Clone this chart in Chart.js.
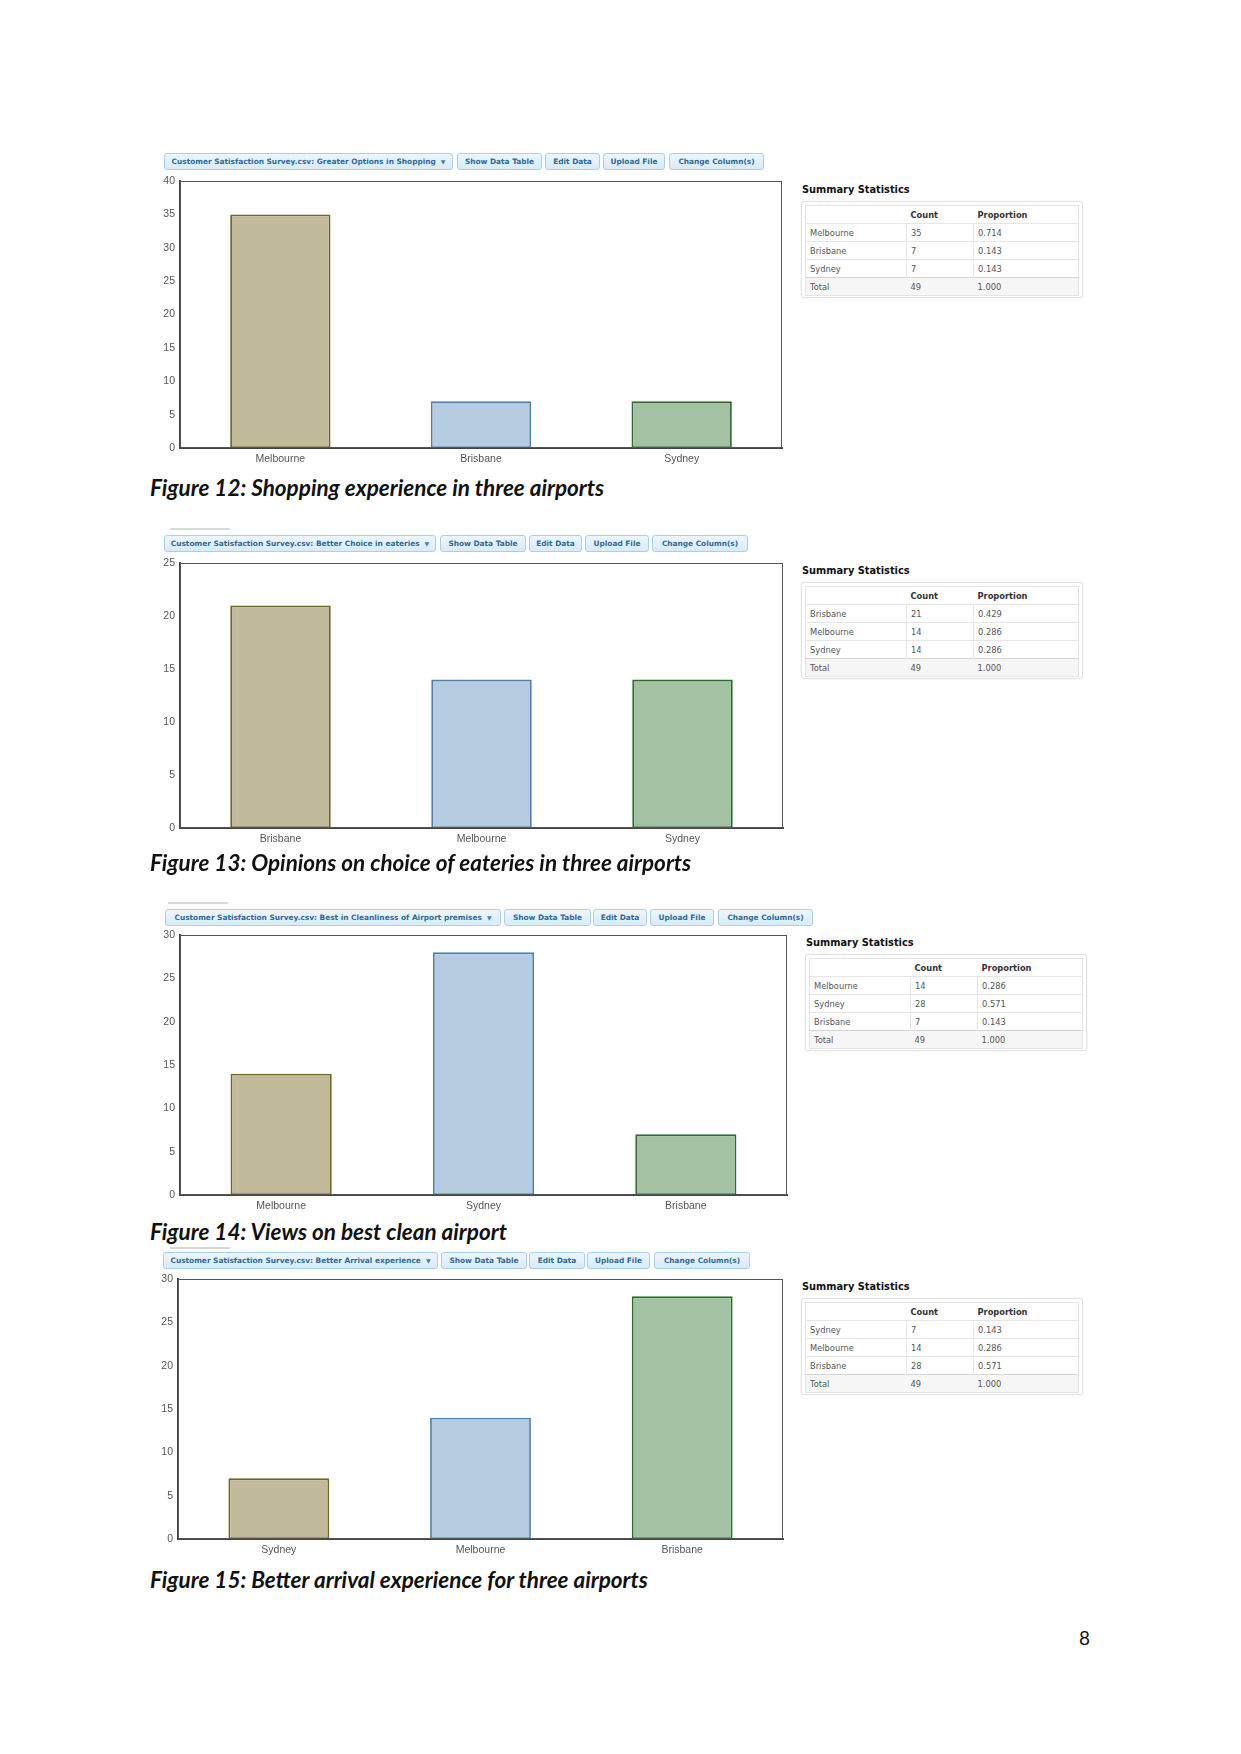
<!DOCTYPE html>
<html>
<head>
<meta charset="utf-8">
<script src="https://cdn.jsdelivr.net/npm/chart.js@4.4.1/dist/chart.umd.min.js"></script>
<style>
  body { margin: 0; background: #fff; }
  #page { position: relative; width: 1241px; height: 1754px; background: #fff; overflow: hidden; }
  .btn {
    position: absolute; box-sizing: border-box; height: 17px;
    border: 1px solid #a9cfeb; border-radius: 3px;
    background: linear-gradient(#eef6fd, #d9eaf8);
    color: #2d6a9a; font: 600 7.4px "DejaVu Sans", sans-serif;
    display: flex; align-items: center; justify-content: center; white-space: nowrap;
  }
  .caret { font-size: 6px; margin-left: 5px; color: #4a7ea8; }
  .fig-line { position: absolute; height: 2px; width: 60px; background: #d8d8d8; }
  canvas { position: absolute; }
  .caption { position: absolute; font: italic bold 22.5px Lato, "Noto Sans", sans-serif; color: #111; white-space: nowrap; }
  .sum-title { position: absolute; font: bold 9.8px "DejaVu Sans", sans-serif; color: #111; }
  .sum-box {
    position: absolute; box-sizing: border-box; width: 282px; height: 97px;
    border: 1px solid #e2e2e2; border-radius: 3px; padding: 3px;
    box-shadow: 0 0 2px rgba(0,0,0,0.08); background: #fff;
  }
  .sum-box table { border-collapse: collapse; width: 274px; font: 8.3px "DejaVu Sans", sans-serif; color: #555; border: 1px solid #e4e4e4; }
  .sum-box td, .sum-box th { height: 17px; padding: 0 0 0 4px; text-align: left; border-top: 1px solid #e6e6e6; }
  .sum-box th { color: #333; font-weight: bold; font-size: 8.3px; }
  .sum-box td.c1 { width: 96px; border-right: 1px solid #e6e6e6; }
  .sum-box td.c2 { width: 62px; border-right: 1px solid #e6e6e6; }
  .sum-box tr.total td { background: #f6f6f6; border-top: 1px solid #d4d4d4; border-right: none; }
</style>
</head>
<body>
<div id="page"></div>
<script>
// ---- data ----
const fig12Labels = ["Melbourne", "Brisbane", "Sydney"];
const fig12Counts = [35, 7, 7];
const fig12Props = ["0.714", "0.143", "0.143"];
const fig12Max = 40;

const fig13Labels = ["Brisbane", "Melbourne", "Sydney"];
const fig13Counts = [21, 14, 14];
const fig13Props = ["0.429", "0.286", "0.286"];
const fig13Max = 25;

const fig14Labels = ["Melbourne", "Sydney", "Brisbane"];
const fig14Counts = [14, 28, 7];
const fig14Props = ["0.286", "0.571", "0.143"];
const fig14Max = 30;

const fig15Labels = ["Sydney", "Melbourne", "Brisbane"];
const fig15Counts = [7, 14, 28];
const fig15Props = ["0.143", "0.286", "0.571"];
const fig15Max = 30;

const surveyColumns = [
  "Greater Options in Shopping",
  "Better Choice in eateries",
  "Best in Cleanliness of Airport premises",
  "Better Arrival experience"
];
const captions = [
  "Figure 12: Shopping experience in three airports",
  "Figure 13: Opinions on choice of eateries in three airports",
  "Figure 14: Views on best clean airport",
  "Figure 15: Better arrival experience for three airports"
];
const buttonLabels = ["Show Data Table", "Edit Data", "Upload File", "Change Column(s)"];

const barFills = ["#c1bb9b", "#b4cbe0", "#a3c2a3"];
const barEdges = ["#6f6424", "#4f7fae", "#2f6b2f"];

const page = document.getElementById("page");

// draws the frame round the plot area
const plotFrame = {
  id: "plotFrame",
  afterDraw(chart) {
    const ctx = chart.ctx, a = chart.chartArea;
    ctx.save();
    ctx.strokeStyle = "#555";
    ctx.lineWidth = 1;
    ctx.strokeRect(a.left + 0.5, a.top + 0.5, a.right - a.left - 1, a.bottom - a.top - 1);
    ctx.restore();
  }
};

function addEl(cls, css, html) {
  let el = document.createElement("div");
  el.className = cls;
  Object.assign(el.style, css);
  if (html !== undefined) el.innerHTML = html;
  page.appendChild(el);
  return el;
}

function makeButtons(top, boxes, column) {
  boxes.forEach(function (b, i) {
    let text = i == 0
      ? "Customer Satisfaction Survey.csv: " + column + '<span class="caret">&#9660;</span>'
      : buttonLabels[i - 1];
    addEl("btn", { left: b[0] + "px", top: top + "px", width: (b[1] - b[0]) + "px" }, text);
  });
}

function makeChart(plot, labels, counts, yMax) {
  // plot = [left, top, right, bottom] of the framed plot area
  let yAxisW = 30, xAxisH = 22, padTop = 7;
  let canvas = document.createElement("canvas");
  let left = plot[0] - yAxisW;
  canvas.width = plot[2] - left + 2;
  canvas.height = plot[3] - plot[1] + padTop + xAxisH;
  canvas.style.left = left + "px";
  canvas.style.top = (plot[1] - padTop) + "px";
  page.appendChild(canvas);

  let tickFont = { family: "Liberation Sans", size: 10.5 };
  new Chart(canvas, {
    type: "bar",
    data: {
      labels: labels,
      datasets: [{
        data: counts,
        backgroundColor: barFills,
        borderColor: barEdges,
        borderWidth: 1.8,
        borderSkipped: false,
        categoryPercentage: 1,
        barPercentage: 0.5
      }]
    },
    options: {
      responsive: false,
      animation: false,
      devicePixelRatio: 1,
      layout: { padding: { top: padTop, right: 2, left: 0, bottom: 0 } },
      plugins: { legend: { display: false }, tooltip: { enabled: false } },
      scales: {
        x: {
          grid: { display: false, drawTicks: false },
          border: { color: "#444", width: 2 },
          ticks: { color: "#555", font: tickFont, padding: 5, maxRotation: 0 },
          afterFit: function (s) { s.height = xAxisH; s.paddingLeft = 0; s.paddingRight = 0; }
        },
        y: {
          min: 0, max: yMax,
          grid: { display: false, drawTicks: false },
          border: { color: "#444", width: 2 },
          ticks: { stepSize: 5, color: "#555", font: tickFont, padding: 5 },
          afterFit: function (s) { s.width = yAxisW; s.paddingTop = 0; s.paddingBottom = 0; }
        }
      }
    },
    plugins: [plotFrame]
  });
}

function makeSummary(x, y, labels, counts, props) {
  addEl("sum-title", { left: x + "px", top: (y - 17) + "px" }, "Summary Statistics");
  let rows = '<tr><th class="c1"></th><th>Count</th><th>Proportion</th></tr>';
  let total = 0;
  labels.forEach(function (lab, i) {
    total += counts[i];
    rows += '<tr><td class="c1">' + lab + '</td><td class="c2">' + counts[i] + '</td><td>' + props[i] + '</td></tr>';
  });
  rows += '<tr class="total"><td class="c1">Total</td><td class="c2">' + total + '</td><td>1.000</td></tr>';
  addEl("sum-box", { left: (x - 1) + "px", top: y + "px" }, "<table>" + rows + "</table>");
}

// figure 12
makeButtons(153, [[164, 453], [457, 542], [545, 600], [603, 665], [669, 764]], surveyColumns[0]);
makeChart([180, 181, 782, 448], fig12Labels, fig12Counts, fig12Max);
addEl("caption", { left: "150px", top: "474px" }, captions[0]);
makeSummary(802, 201, fig12Labels, fig12Counts, fig12Props);

// figure 13
addEl("fig-line", { left: "170px", top: "528px" });
makeButtons(535, [[164, 436], [440, 526], [529, 582], [585, 649], [652, 748]], surveyColumns[1]);
makeChart([180, 563, 783, 828], fig13Labels, fig13Counts, fig13Max);
addEl("caption", { left: "150px", top: "849px" }, captions[1]);
makeSummary(802, 582, fig13Labels, fig13Counts, fig13Props);

// figure 14
addEl("fig-line", { left: "168px", top: "902px" });
makeButtons(909, [[165, 501], [504, 591], [593, 647], [650, 714], [718, 813]], surveyColumns[2]);
makeChart([180, 935, 787, 1195], fig14Labels, fig14Counts, fig14Max);
addEl("caption", { left: "150px", top: "1218px" }, captions[2]);
makeSummary(806, 954, fig14Labels, fig14Counts, fig14Props);

// figure 15
addEl("fig-line", { left: "170px", top: "1247px" });
makeButtons(1252, [[163, 438], [441, 527], [529, 585], [587, 650], [654, 750]], surveyColumns[3]);
makeChart([178, 1279, 783, 1539], fig15Labels, fig15Counts, fig15Max);
addEl("caption", { left: "150px", top: "1566px" }, captions[3]);
makeSummary(802, 1298, fig15Labels, fig15Counts, fig15Props);

addEl("", { position: "absolute", left: "1079px", top: "1626px", font: "19px Lato, sans-serif", color: "#111" }, "8");
</script>
</body>
</html>
